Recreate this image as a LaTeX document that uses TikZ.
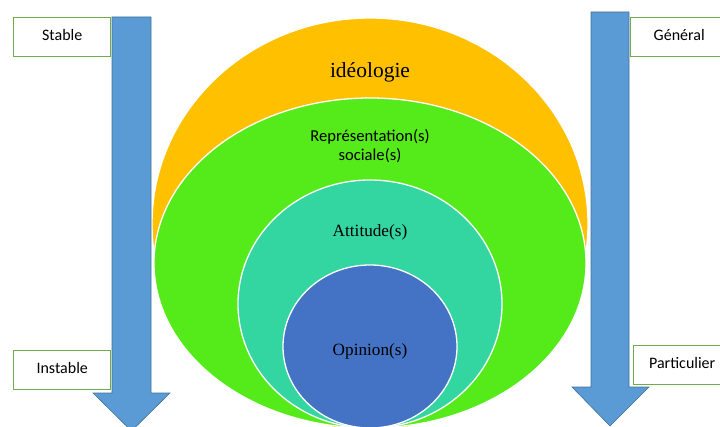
\documentclass[tikz,border=0pt]{standalone}
\usepackage{fontspec}
\setmainfont{Liberation Serif}
\newfontfamily\calib{Carlito}
\definecolor{cOrange}{HTML}{FFC000}
\definecolor{cGreen}{HTML}{55EA1A}
\definecolor{cTeal}{HTML}{33D6A0}
\definecolor{cBlue}{HTML}{4472C4}
\definecolor{cArrow}{HTML}{5B9BD5}
\definecolor{cArrowB}{HTML}{41719C}
\definecolor{cBox}{HTML}{70AD47}
\begin{document}
\begin{tikzpicture}[x=1pt,y=-1pt,
  lbox/.style={draw=cBox,line width=1.4pt,fill=white,minimum width=97pt,minimum height=39pt,anchor=north west,inner sep=0pt,font=\calib\fontsize{16}{18}\selectfont},
  ring/.style={draw=white,line width=1.3pt},
  bigarrow/.style={fill=cArrow,draw=cArrowB,line width=0.6pt},
  serifl/.style={font=\fontsize{17.2}{19}\selectfont},
  sansl/.style={font=\calib\fontsize{16.6}{19}\selectfont,align=center}]
\useasboundingbox (0,0) rectangle (720,427);
\clip (0,0) rectangle (720,427);
% ellipses
\fill[cOrange,ring] (370,224) ellipse [x radius=218, y radius=206];
\fill[cGreen,ring] (370,263) ellipse [x radius=216, y radius=165];
\fill[cTeal,ring] (370,304) ellipse [x radius=132, y radius=124];
\fill[cBlue,ring] (370,346.5) ellipse [x radius=87, y radius=81.5];
% labels
\node[font=\fontsize{21.5}{24}\selectfont] (ideo) at (370,72) {idéologie};
\node[sansl] (rep) at (370,146) {Représentation(s)\\sociale(s)};
\node[serifl] (att) at (370,232) {Attitude(s)};
\node[serifl] (opi) at (370,351) {Opinion(s)};
% arrows
\filldraw[bigarrow] (112,17) -- (151,17) -- (151,393) -- (170,393) -- (131.5,431) -- (93,393) -- (112,393) -- cycle;
\filldraw[bigarrow] (591,12) -- (629,12) -- (629,387) -- (649,387) -- (610,426) -- (572,387) -- (591,387) -- cycle;
% boxes
\node[lbox] (stable) at (13,17) {\raisebox{4pt}{Stable}};
\node[lbox] (instable) at (13,350) {\raisebox{4pt}{Instable}};
\node[lbox] (general) at (630,17) {\raisebox{4pt}{Général}};
\node[lbox] (partic) at (633,345) {\raisebox{4pt}{Particulier}};
\end{tikzpicture}
\end{document}
